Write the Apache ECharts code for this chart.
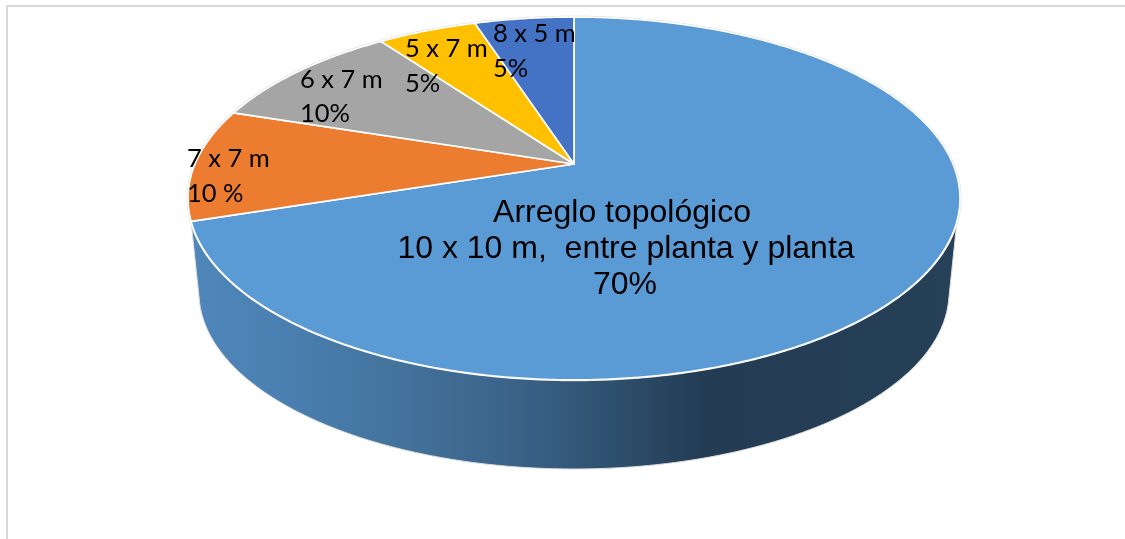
<!DOCTYPE html>
<html>
<head>
<meta charset="utf-8">
<style>html,body{margin:0;padding:0;background:#fff}#c{width:1125px;height:539px}</style>
<script src="https://cdn.jsdelivr.net/npm/echarts@6/dist/echarts.min.js"></script>
</head>
<body>
<div id="c"></div>
<script>
// Data
const categories = ['10 x 10 m', '7 x 7 m', '6 x 7 m', '5 x 7 m', '8 x 5 m'];
const values = [70, 10, 10, 5, 5];
const colors = ['#5B9BD5', '#EC7C30', '#A5A5A5', '#FFC000', '#4472C4'];
const mainLabelLines = ['Arreglo topológico', '10 x 10 m,  entre planta y planta', '70%'];
const smallLabelLines = [['7 x 7 m', '10 %'], ['6 x 7 m', '10%'], ['5 x 7 m', '5%'], ['8 x 5 m', '5%']];

// Layout of the tilted disc (perspective projection of a unit circle)
const apexX = 574, apexY = 164, kx = 379, ky = 174.9, persp = 0.19;
const base = { cx: 574, cy: 292.5, rx: 375, ry: 176.5 };
const total = values.reduce((a, b) => a + b, 0);

function project(deg) {
  const t = deg * Math.PI / 180, X = Math.sin(t), Y = Math.cos(t), d = 1 + persp * Y;
  return [apexX + X * kx / d, apexY - Y * ky / d];
}
function arc(from, to) {
  const pts = [], n = Math.max(2, Math.ceil(Math.abs(to - from) * 2));
  for (let i = 0; i <= n; i++) pts.push(project(from + (to - from) * i / n));
  return pts;
}
let acc = 0;
const spans = values.map(v => { const s = acc; acc += v / total * 360; return [s, acc]; });

function wallPoints() {
  const pts = arc(108, spans[0][1]);
  const a0 = 176.6, a1 = 3;           // base ellipse, left corner round the bottom to right corner
  for (let i = 0; i <= 200; i++) {
    const a = (a0 + (a1 - a0) * i / 200) * Math.PI / 180;
    pts.push([base.cx + base.rx * Math.cos(a), base.cy + base.ry * Math.sin(a)]);
  }
  return pts;
}

const wallFill = new echarts.graphic.LinearGradient(0, 0, 1, 0, [
  { offset: 0, color: '#5087BA' },
  { offset: 0.11, color: '#4A80B2' },
  { offset: 0.25, color: '#44759F' },
  { offset: 0.42, color: '#3B6388' },
  { offset: 0.55, color: '#2E506F' },
  { offset: 0.67, color: '#233C53' },
  { offset: 1, color: '#264057' }
]);

const labelFont = '25.5px Lato, sans-serif';
const mainFont = '32px "Liberation Sans", Arial, sans-serif';
const smallPos = [[187, 159, 194], [300, 80, 114], [405, 49, 84], [493, 34, 69]];
const mainPos = [[622, 213], [626, 249], [625, 285]];

const labelRows = [];
mainLabelLines.forEach((t, i) => labelRows.push({ text: t, x: mainPos[i][0], y: mainPos[i][1], align: 'center', font: mainFont }));
smallLabelLines.forEach((ls, i) => ls.forEach((t, j) =>
  labelRows.push({ text: t, x: smallPos[i][0], y: smallPos[i][j + 1], align: 'left', font: labelFont })));

const chart = echarts.init(document.getElementById('c'), null, { renderer: 'canvas' });
chart.setOption({
  animation: false,
  backgroundColor: '#fff',
  graphic: [
    { type: 'line', shape: { x1: 7, y1: 6, x2: 1125, y2: 6 }, style: { stroke: '#D9D9D9', lineWidth: 2 }, silent: true },
    { type: 'line', shape: { x1: 7, y1: 5, x2: 7, y2: 539 }, style: { stroke: '#D9D9D9', lineWidth: 2 }, silent: true }
  ],
  series: [
    {
      type: 'custom',
      coordinateSystem: 'none',
      z: 2,
      data: values.map((v, i) => ({ name: categories[i], value: [v] })),
      renderItem(params) {
        const i = params.dataIndex, [s, e] = spans[i];
        const children = [];
        if (i === 0) {
          children.push({ type: 'polygon', shape: { points: wallPoints() },
            style: { fill: wallFill, stroke: '#DDDDDD', lineWidth: 1 } });
          children.push({ type: 'polygon', shape: { points: arc(0, 360) },
            style: { fill: 'none', stroke: '#D8D8D8', lineWidth: 2.6 } });
        }
        children.push({ type: 'polygon', shape: { points: [[apexX, apexY]].concat(arc(s, e)) },
          style: { fill: colors[i], stroke: '#FFFFFF', lineWidth: 1.7, lineJoin: 'round' } });
        return { type: 'group', children };
      }
    },
    {
      type: 'custom',
      coordinateSystem: 'none',
      z: 5,
      silent: true,
      data: labelRows.map((r, i) => [i]),
      renderItem(params) {
        const r = labelRows[params.dataIndex];
        return { type: 'text', x: r.x, y: r.y,
          style: { text: r.text, font: r.font, fill: '#000', align: r.align, verticalAlign: 'middle' } };
      }
    }
  ]
});
</script>
</body>
</html>
